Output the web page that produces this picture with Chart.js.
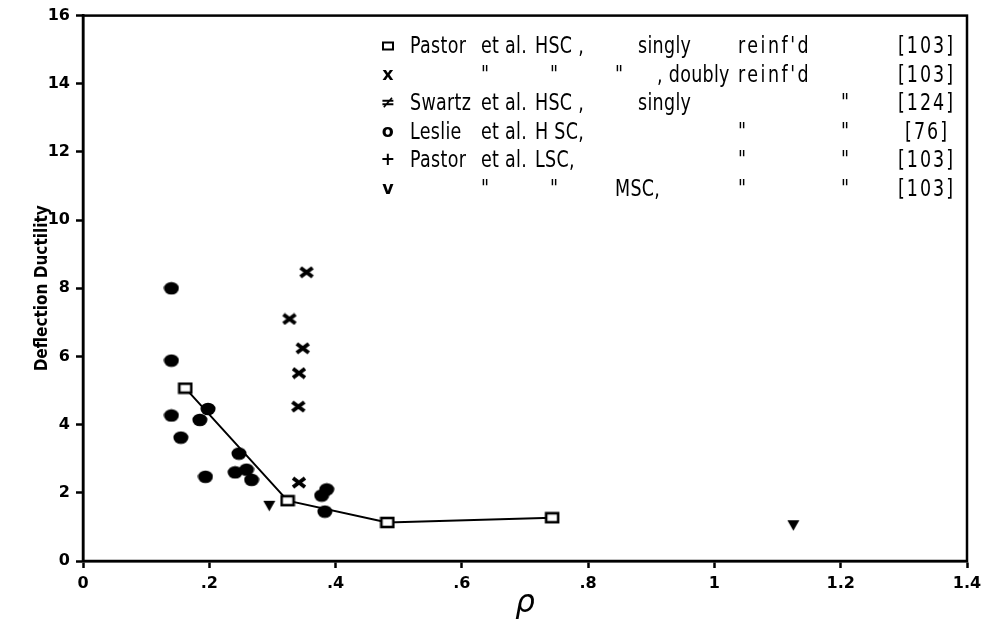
<!DOCTYPE html>
<html>
<head>
<meta charset="utf-8">
<script src="https://cdn.jsdelivr.net/npm/chart.js@4.4.1/dist/chart.umd.min.js"></script>
<style>
  body { margin: 0; background: #fff; }
  #wrap { position: relative; width: 988px; height: 638px; }
  #legend { position: absolute; left: 0; top: 0; width: 988px; height: 638px; pointer-events: none;
    font-family: "DejaVu Sans", sans-serif; font-size: 17.5px; color: #000; letter-spacing: 0.3px; }
  #legend span { position: absolute; transform: translateY(-50%) scaleY(1.32); white-space: pre; line-height: 1; }
  #legend .ref { transform: translate(-100%, -50%) scaleY(1.32); letter-spacing: 2px; }
  #legend .wide { letter-spacing: 2.5px; }
  #legend .sym { font-weight: bold; transform: translate(-50%, -50%); }
  #legend .box { width: 8px; height: 5px; border: 2.5px solid #000; }
</style>
</head>
<body>
<div id="wrap">
  <canvas id="chart" width="988" height="638"></canvas>
  <div id="legend"></div>
</div>
<script>
// data (rho, deflection ductility)
const singlyX = [0.162, 0.324, 0.482, 0.743];
const singlyY = [5.07, 1.77, 1.13, 1.27];
const doublyX = [0.354, 0.327, 0.348, 0.342, 0.341, 0.342];
const doublyY = [8.47, 7.10, 6.24, 5.51, 4.53, 2.30];
const swartzX = [0.198, 0.386];
const swartzY = [4.46, 2.10];
const leslieX = [0.140, 0.140, 0.140, 0.155, 0.185, 0.194, 0.241, 0.247, 0.259, 0.267, 0.378, 0.383];
const leslieY = [8.00, 5.88, 4.27, 3.62, 4.14, 2.47, 2.60, 3.15, 2.68, 2.38, 1.92, 1.45];
const mscX = [0.295, 1.125];
const mscY = [1.62, 1.05];

const xTickLabels = ['0', '.2', '.4', '.6', '.8', '1', '1.2', '1.4'];
const yTickLabels = ['0', '2', '4', '6', '8', '10', '12', '14', '16'];

// legend rows: [x, text] pairs, first entry is the symbol, last one the reference (right edge)
const legendRows = [
  [[388, '□'], [410, 'Pastor'], [481, 'et al.'], [535, 'HSC ,'], [638, 'singly'], [738, "reinf'd"], [955, '[103]']],
  [[388, 'x'], [481, '"'], [550, '"'], [615, '"'], [657, ', doubly'], [738, "reinf'd"], [955, '[103]']],
  [[388, '≠'], [410, 'Swartz'], [481, 'et al.'], [535, 'HSC ,'], [638, 'singly'], [841, '"'], [955, '[124]']],
  [[388, 'o'], [410, 'Leslie'], [481, 'et al.'], [535, 'H SC,'], [738, '"'], [841, '"'], [949, '[76]']],
  [[388, '+'], [410, 'Pastor'], [481, 'et al.'], [535, 'LSC,'], [738, '"'], [841, '"'], [955, '[103]']],
  [[388, 'v'], [481, '"'], [550, '"'], [615, 'MSC,'], [738, '"'], [841, '"'], [955, '[103]']]
];

const pts = (xs, ys) => xs.map((x, i) => ({ x: x, y: ys[i] }));

function marker(w, h, draw) {
  const c = document.createElement('canvas');
  c.width = w; c.height = h;
  const g = c.getContext('2d');
  g.fillStyle = '#000'; g.strokeStyle = '#000';
  draw(g);
  return c;
}
const squareMark = marker(16, 13, g => {
  g.fillStyle = '#fff'; g.fillRect(2, 2, 12, 9);
  g.lineWidth = 2.6; g.strokeRect(2, 2, 12, 9);
});
const crossMark = marker(16, 13, g => {
  g.lineWidth = 4;
  g.beginPath(); g.moveTo(2, 2); g.lineTo(14, 11); g.moveTo(14, 2); g.lineTo(2, 11); g.stroke();
});
const blobMark = marker(16, 14, g => {
  g.beginPath(); g.ellipse(8, 7, 7.5, 6.3, 0, 0, Math.PI * 2); g.fill();
});
const triMark = marker(13, 12, g => {
  g.beginPath(); g.moveTo(0.5, 1); g.lineTo(12.5, 1); g.lineTo(6.5, 11.5); g.closePath(); g.fill();
});

// frame round the plot area
const frame = {
  id: 'frame',
  afterDraw(chart) {
    const a = chart.chartArea, ctx = chart.ctx;
    ctx.save();
    ctx.strokeStyle = '#000';
    ctx.lineWidth = 2.5;
    ctx.strokeRect(a.left, a.top, a.right - a.left, a.bottom - a.top);
    ctx.restore();
  }
};

new Chart(document.getElementById('chart'), {
  type: 'scatter',
  data: {
    datasets: [
      { label: 'Pastor et al. HSC, singly', data: pts(singlyX, singlyY), showLine: true,
        borderColor: '#000', borderWidth: 2, pointStyle: squareMark },
      { label: 'doubly', data: pts(doublyX, doublyY), pointStyle: crossMark },
      { label: 'Swartz', data: pts(swartzX, swartzY), pointStyle: blobMark },
      { label: 'Leslie', data: pts(leslieX, leslieY), pointStyle: blobMark },
      { label: 'MSC', data: pts(mscX, mscY), pointStyle: triMark }
    ]
  },
  options: {
    responsive: false,
    animation: false,
    layout: { padding: { left: 0, right: 21, top: 14, bottom: 0 } },
    plugins: { legend: { display: false }, tooltip: { enabled: false } },
    scales: {
      x: {
        type: 'linear', min: 0, max: 1.4,
        afterFit: s => { s.height = 77; },
        grid: { drawOnChartArea: false, tickLength: 7, tickColor: '#000', tickWidth: 2.5 },
        border: { color: '#000', width: 2.5 },
        ticks: { stepSize: 0.2, color: '#000', padding: 6, maxRotation: 0,
          font: { family: 'DejaVu Sans', weight: 'bold', size: 16 },
          callback: (v, i) => xTickLabels[i] },
        title: { display: true, text: 'ρ', color: '#000', padding: { top: 0, bottom: 15 },
          font: { family: 'DejaVu Sans', style: 'italic', size: 31 } }
      },
      y: {
        type: 'linear', min: 0, max: 16,
        afterFit: s => { s.width = 83; },
        grid: { drawOnChartArea: false, tickLength: 7, tickColor: '#000', tickWidth: 2.5 },
        border: { color: '#000', width: 2.5 },
        ticks: { stepSize: 2, color: '#000', padding: 6,
          font: { family: 'DejaVu Sans', weight: 'bold', size: 16 },
          callback: (v, i) => yTickLabels[i] },
        title: { display: true, text: 'Deflection Ductility', color: '#000', padding: { top: 32, bottom: 0 },
          font: { family: 'DejaVu Sans Condensed', weight: 'bold', size: 17 } }
      }
    }
  },
  plugins: [frame]
});

// legend block
const leg = document.getElementById('legend');
legendRows.forEach((row, r) => {
  const y = 46 + r * 28.6;
  row.forEach(([x, t], k) => {
    const s = document.createElement('span');
    s.style.left = x + 'px';
    s.style.top = y + 'px';
    if (k === 0) {
      s.className = 'sym';
      if (t === '□') { s.classList.add('box'); } else { s.textContent = t; }
    } else {
      if (k === row.length - 1) s.className = 'ref';
      else if (t === "reinf'd") s.className = 'wide';
      s.textContent = t;
    }
    leg.appendChild(s);
  });
});
</script>
</body>
</html>
